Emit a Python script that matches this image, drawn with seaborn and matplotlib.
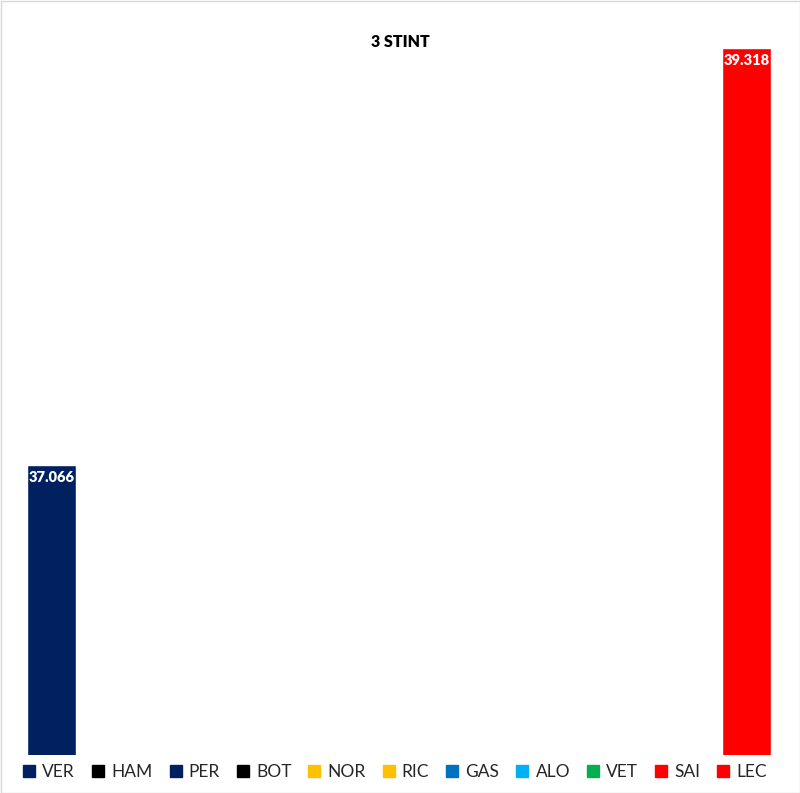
import numpy as np
import pandas as pd
import seaborn as sns
import matplotlib
matplotlib.use("Agg")
import matplotlib.pyplot as plt
from matplotlib.lines import Line2D
from matplotlib.patches import Rectangle

# Lap times for the third stint (only drivers who ran one)
drivers = ["VER", "HAM", "PER", "BOT", "NOR", "RIC", "GAS", "ALO", "VET", "SAI", "LEC"]
times = [37.066, np.nan, np.nan, np.nan, np.nan, np.nan, np.nan, np.nan, np.nan, np.nan, 39.318]
colors = ["#002060", "#000000", "#002060", "#000000", "#FFC000", "#FFC000",
          "#0070C0", "#00B0F0", "#00B050", "#FF0000", "#FF0000"]
title = "3 STINT"

sns.set_theme(style="white")
plt.rcParams["font.family"] = ["Lato", "DejaVu Sans"]

df = pd.DataFrame({"driver": drivers, "time": times})
palette = dict(zip(drivers, colors))

fig = plt.figure(figsize=(8.0, 7.93), dpi=100)
ax = fig.add_axes([9.8 / 800, 38 / 793, 778.4 / 800, 722.2 / 793])

sns.barplot(data=df, x="driver", y="time", hue="driver", order=drivers,
            hue_order=drivers, palette=palette, width=0.705, legend=False,
            saturation=1, ax=ax)

ax.set_ylim(35.5, 39.4)
ax.set_xlim(-0.6, len(drivers) - 0.4)
ax.axis("off")

# value labels inside the top of each bar
for i, v in enumerate(times):
    if not np.isnan(v):
        ax.text(i, v - 0.03, f"{v:.3f}", ha="center", va="top", color="white",
                fontsize=10.5, fontweight="heavy")

fig.text(0.5, 1 - 42 / 793, title, ha="center", va="center",
         fontsize=11.5, fontweight="heavy", color="#000000")

handles = [Line2D([0], [0], marker="s", linestyle="none", markersize=8,
                  markerfacecolor=c, markeredgecolor=c) for c in colors]
fig.legend(handles, drivers, loc="center", bbox_to_anchor=(0.494, 1 - 772 / 793),
           ncol=len(drivers), frameon=False, fontsize=12.5, handlelength=0.7,
           handletextpad=0.4, columnspacing=0.98, borderaxespad=0,
           borderpad=0)

# chart-area border
fig.add_artist(Rectangle((0.5 / 800, 0.5 / 793), 1 - 1 / 800, 1 - 1 / 793,
                         transform=fig.transFigure, fill=False,
                         edgecolor="#D9D9D9", linewidth=1))

fig.savefig("out.png", dpi=100)
